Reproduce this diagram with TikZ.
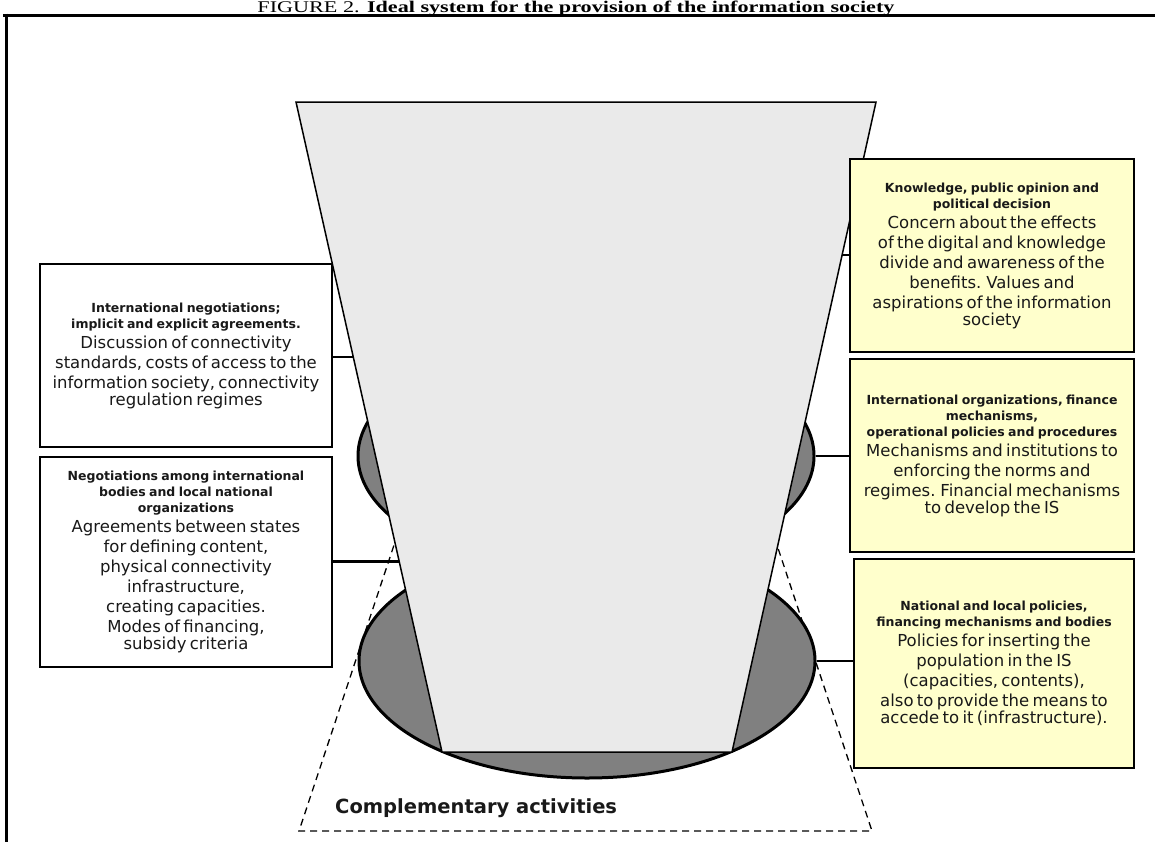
\documentclass[tikz,border=0pt]{standalone}
\usepackage{graphicx}
\usepackage{fontspec}
\setmainfont{DejaVu Sans}
\newfontfamily\titlefont{Liberation Serif}
\usetikzlibrary{shapes.geometric,calc}
\definecolor{trapgray}{HTML}{EAEAEA}
\definecolor{ellgray}{HTML}{808080}
\definecolor{paleyellow}{HTML}{FFFFCC}
\newcommand\hdsz{\fontsize{12.5}{16}\selectfont\bfseries}
\newcommand\bdsz{\fontsize{16.5}{20}\selectfont}
\begin{document}
\begin{tikzpicture}[x=1pt,y=-1pt,
  infobox/.style={draw=black, line width=1.5pt, fill=white, inner xsep=0pt, inner ysep=0pt, align=center, text=black!90},
  yellowbox/.style={infobox, fill=paleyellow},
  link/.style={line width=1.5pt},
  boldlink/.style={line width=3pt},
  disc/.style={ellipse, draw=black, line width=3pt, fill=ellgray, minimum width=456pt, minimum height=234pt, inner sep=0pt},
  funnel/.style={draw=black, line width=1.5pt, fill=trapgray, line join=miter},
  scopeline/.style={line width=1.3pt, dash pattern=on 7pt off 5pt},
  frameline/.style={line width=3pt}
]
\useasboundingbox (0,0) rectangle (1155,841);

% dashed scope of complementary activities
\coordinate (d1) at (409,500);
\coordinate (d2) at (299,831);
\coordinate (d3) at (872,831);
\coordinate (d4) at (762,500);
\draw[scopeline] (d1) -- (d2) -- (d3) -- (d4);

% discs
\node[disc] (e1) at (586,456) {};
\node[disc] (e2) at (587,661) {};

% funnel
\coordinate (tl) at (296,102);
\coordinate (tr) at (876,102);
\coordinate (br) at (732,752);
\coordinate (bl) at (442,752);
\draw[funnel] (tl) -- (tr) -- (br) -- (bl) -- cycle;
\coordinate (p1) at ($(tl)!0.3923!(bl)$);
\coordinate (p2) at ($(tl)!0.7062!(bl)$);
\coordinate (p3) at ($(tr)!0.2354!(br)$);

% boxes
\node[infobox, text width=292pt, minimum height=183pt] (b1) at (186,355.5)
 {{\hdsz International negotiations;\\implicit and explicit agreements.\par}
  \bdsz Discussion of connectivity\\standards, costs of access to the\\information society, connectivity\\regulation regimes};
\node[infobox, text width=292pt, minimum height=210pt] (b2) at (186,562)
 {{\hdsz Negotiations among international\\bodies and local national\\organizations\par}
  \bdsz Agreements between states\\for defining content,\\physical connectivity\\infrastructure,\\creating capacities.\\Modes of financing,\\subsidy criteria};
\node[yellowbox, text width=284pt, minimum height=193pt] (kn) at (992,255.5)
 {{\hdsz Knowledge, public opinion and\\political decision\par}
  \bdsz Concern about the effects\\of the digital and knowledge\\divide and awareness of the\\benefits. Values and\\aspirations of the information\\society};
\node[yellowbox, text width=284pt, minimum height=193pt] (io) at (992,455.5)
 {{\hdsz International organizations, finance\\mechanisms,\\operational policies and procedures\par}
  \bdsz Mechanisms and institutions to\\enforcing the norms and\\regimes. Financial mechanisms\\to develop the IS};
\node[yellowbox, text width=280pt, minimum height=209pt] (na) at (994,663.5)
 {{\hdsz National and local policies,\\financing mechanisms and bodies\par}
  \bdsz Policies for inserting the\\population in the IS\\(capacities, contents),\\also to provide the means to\\accede to it (infrastructure).};

% connectors
\draw[link] (b1.east |- p1) -- (p1);
\draw[boldlink] (b2.east |- p2) -- (p2);
\draw[link] (p3) -- (p3 -| kn.west);
\draw[link] (e1.east) -- (e1.east -| io.west);
\draw[link] (e2.east) -- (e2.east -| na.west);

% label
\node[font=\fontsize{19.5}{22}\selectfont\bfseries, anchor=west, inner sep=0pt, text=black!90] (comp) at (335,808) {Complementary activities};

% title
\node[anchor=base, inner sep=0pt] (title) at (576,12.5)
 {\resizebox{637pt}{11.5pt}{\titlefont FIGURE 2. \textbf{Ideal system for the provision of the information society}}};

% frame
\draw[frameline] (3,15) -- (1160,15);
\draw[frameline] (6.5,13.5) -- (6.5,845);
\end{tikzpicture}
\end{document}
